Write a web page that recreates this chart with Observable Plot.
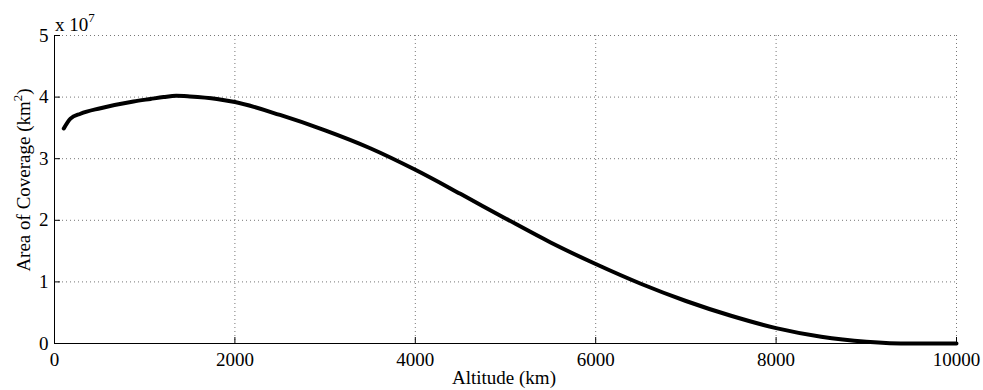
<!DOCTYPE html>
<html>
<head>
<meta charset="utf-8">
<script src="https://cdn.jsdelivr.net/npm/d3@7"></script>
<script src="https://cdn.jsdelivr.net/npm/@observablehq/plot@0.6"></script>
<style>
  html, body { margin: 0; padding: 0; background: #fff; }
  #chart svg { display: block; }
</style>
</head>
<body>
<div id="chart"></div>
<script>
// Altitude (km)
const altitude = [103, 177, 288, 510, 876, 1064, 1210, 1350, 1500, 1800, 2000, 2500, 3000, 3500, 4000, 4500, 5000, 5500, 6000, 6500, 7000, 7500, 8000, 8500, 9000, 9500, 10000];
// Area of coverage (x 10^7 km^2)
const area = [3.49, 3.65, 3.73, 3.82, 3.93, 3.97, 4.00, 4.02, 4.01, 3.97, 3.92, 3.71, 3.46, 3.17, 2.82, 2.43, 2.03, 1.64, 1.29, 0.97, 0.69, 0.45, 0.25, 0.11, 0.03, 0.0, 0.0];
const xTicks = [0, 2000, 4000, 6000, 8000, 10000];
const yTicks = [0, 1, 2, 3, 4, 5];

const data = altitude.map((a, i) => ({altitude: a, area: area[i]}));
const font = "'Liberation Serif', 'Times New Roman', serif";

const plot = Plot.plot({
  width: 983,
  height: 390,
  marginLeft: 54,
  marginRight: 27,
  marginTop: 35,
  marginBottom: 47,
  style: {fontFamily: font, fontSize: "19px", background: "#fff", color: "#000"},
  x: {domain: [0, 10000], ticks: xTicks},
  y: {domain: [0, 5], ticks: yTicks},
  marks: [
    Plot.gridX(xTicks.slice(1), {stroke: "#777", strokeOpacity: 1, strokeDasharray: "1,3"}),
    Plot.gridY(yTicks.slice(1), {stroke: "#777", strokeOpacity: 1, strokeDasharray: "1,3"}),
    Plot.axisX(xTicks, {tickSize: -6, tickPadding: 15, label: null, fontSize: 19, tickFormat: d => String(d)}),
    Plot.axisY(yTicks, {tickSize: -6, tickPadding: 12, label: null, fontSize: 19, tickFormat: d => String(d)}),
    Plot.ruleY([0], {stroke: "#000", strokeWidth: 1}),
    Plot.ruleX([0], {stroke: "#000", strokeWidth: 1}),
    Plot.line(data, {x: "altitude", y: "area", stroke: "#000", strokeWidth: 4, curve: "monotone-x"})
  ]
});

const svg = d3.select(plot);
// x axis label
svg.append("text")
  .attr("x", 504).attr("y", 384)
  .attr("text-anchor", "middle")
  .attr("font-family", font).attr("font-size", 19)
  .text("Altitude (km)");
// y axis label with superscript
const yl = svg.append("text")
  .attr("transform", "translate(30,180) rotate(-90)")
  .attr("text-anchor", "middle")
  .attr("font-family", font).attr("font-size", 19);
yl.append("tspan").text("Area of Coverage (km");
yl.append("tspan").attr("font-size", 13).attr("dy", -8).text("2");
yl.append("tspan").attr("dy", 8).text(")");
// exponent label
const ex = svg.append("text")
  .attr("x", 55).attr("y", 31)
  .attr("text-anchor", "start")
  .attr("font-family", font).attr("font-size", 19);
ex.append("tspan").text("x 10");
ex.append("tspan").attr("font-size", 13).attr("dy", -9).text("7");

document.getElementById("chart").appendChild(plot);
</script>
</body>
</html>
